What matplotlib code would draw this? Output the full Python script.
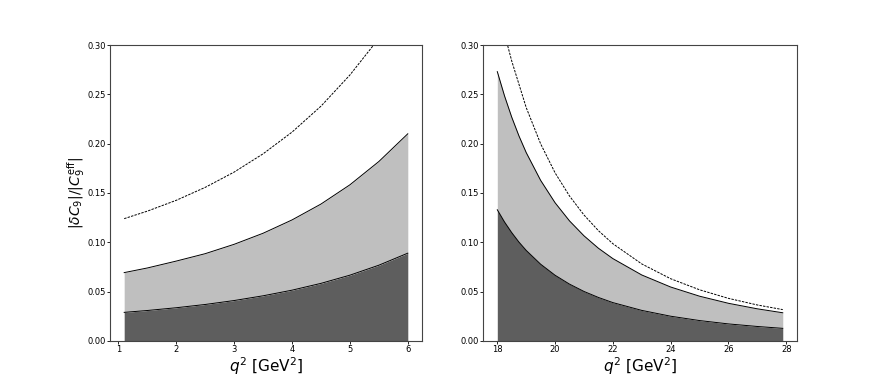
import matplotlib
matplotlib.use("Agg")
import matplotlib.pyplot as plt
import numpy as np

# low q^2 region
q2_low = [1.1, 1.5, 2.0, 2.5, 3.0, 3.5, 4.0, 4.5, 5.0, 5.5, 6.0]
dark_low = [0.029, 0.0309, 0.0337, 0.0370, 0.0410, 0.0458, 0.0515, 0.0584, 0.0667, 0.0768, 0.0890]
light_low = [0.0693, 0.0740, 0.0810, 0.0885, 0.0980, 0.1092, 0.1227, 0.1388, 0.1583, 0.1819, 0.210]
q2_low_dash = [1.1, 1.5, 2.0, 2.5, 3.0, 3.5, 4.0, 4.5, 5.0, 5.41]
dash_low = [0.124, 0.1316, 0.1426, 0.1557, 0.1712, 0.1897, 0.2117, 0.2380, 0.2696, 0.300]

# high q^2 region
q2_high = [18.0, 18.25, 18.5, 18.75, 19.0, 19.5, 20.0, 20.5, 21.0, 21.5, 22.0,
           23.0, 24.0, 25.0, 26.0, 27.0, 27.88]
dark_high = [0.133, 0.1206, 0.1098, 0.1002, 0.0918, 0.0778, 0.0666, 0.0576, 0.0502, 0.0441, 0.0389,
             0.0310, 0.0251, 0.0207, 0.0173, 0.0147, 0.0128]
light_high = [0.273, 0.2484, 0.2268, 0.2078, 0.1910, 0.1628, 0.1401, 0.1217, 0.1066, 0.0940, 0.0835,
              0.0669, 0.0547, 0.0454, 0.0382, 0.0326, 0.0286]
q2_high_dash = [18.36, 18.5, 19.0, 19.5, 20.0, 20.5, 21.0, 21.5, 22.0, 23.0, 24.0, 25.0, 26.0, 27.0, 27.88]
dash_high = [0.2992, 0.2837, 0.2366, 0.1998, 0.1704, 0.1469, 0.1277, 0.1118, 0.0986, 0.0781, 0.0631,
             0.0519, 0.0432, 0.0365, 0.0318]

DARK = "#5e5e5e"
LIGHT = "#bfbfbf"
YTICKS = [0.0, 0.05, 0.10, 0.15, 0.20, 0.25, 0.30]


def draw(ax, q2, dark, light, q2d, dash, xticks):
    ax.fill_between(q2, 0, dark, color=DARK, linewidth=0)
    ax.fill_between(q2, dark, light, color=LIGHT, linewidth=0)
    ax.plot(q2, dark, color="black", lw=0.7)
    ax.plot(q2, light, color="black", lw=0.7)
    ax.plot(q2d, dash, color="black", lw=0.7, linestyle=(0, (2.5, 1.2)))
    ax.set_ylim(0, 0.30)
    ax.set_yticks(YTICKS)
    ax.set_yticklabels([f"{v:.2f}" for v in YTICKS])
    ax.set_xticks(xticks)
    ax.tick_params(labelsize=6, length=2, width=0.6, pad=0.8)
    for s in ax.spines.values():
        s.set_linewidth(0.8)
        s.set_color("#444444")
    ax.set_xlabel(r"$q^2$ [GeV$^2$]", fontsize=11, labelpad=1)


fig = plt.figure(figsize=(8.85, 3.83), dpi=100)
ax1 = fig.add_axes([0.1243, 0.1097, 0.3525, 0.7728])
ax2 = fig.add_axes([0.5458, 0.1097, 0.3548, 0.7728])

draw(ax1, q2_low, dark_low, light_low, q2_low_dash, dash_low, [1, 2, 3, 4, 5, 6])
ax1.set_xlim(0.855, 6.245)
ax1.set_ylabel(r"$|\delta C_9|/|C_9^{\mathrm{eff}}|$", fontsize=10, labelpad=0.5)

draw(ax2, q2_high, dark_high, light_high, q2_high_dash, dash_high, [18, 20, 22, 24, 26, 28])
ax2.set_xlim(17.506, 28.374)

fig.savefig("out.png", dpi=100)
